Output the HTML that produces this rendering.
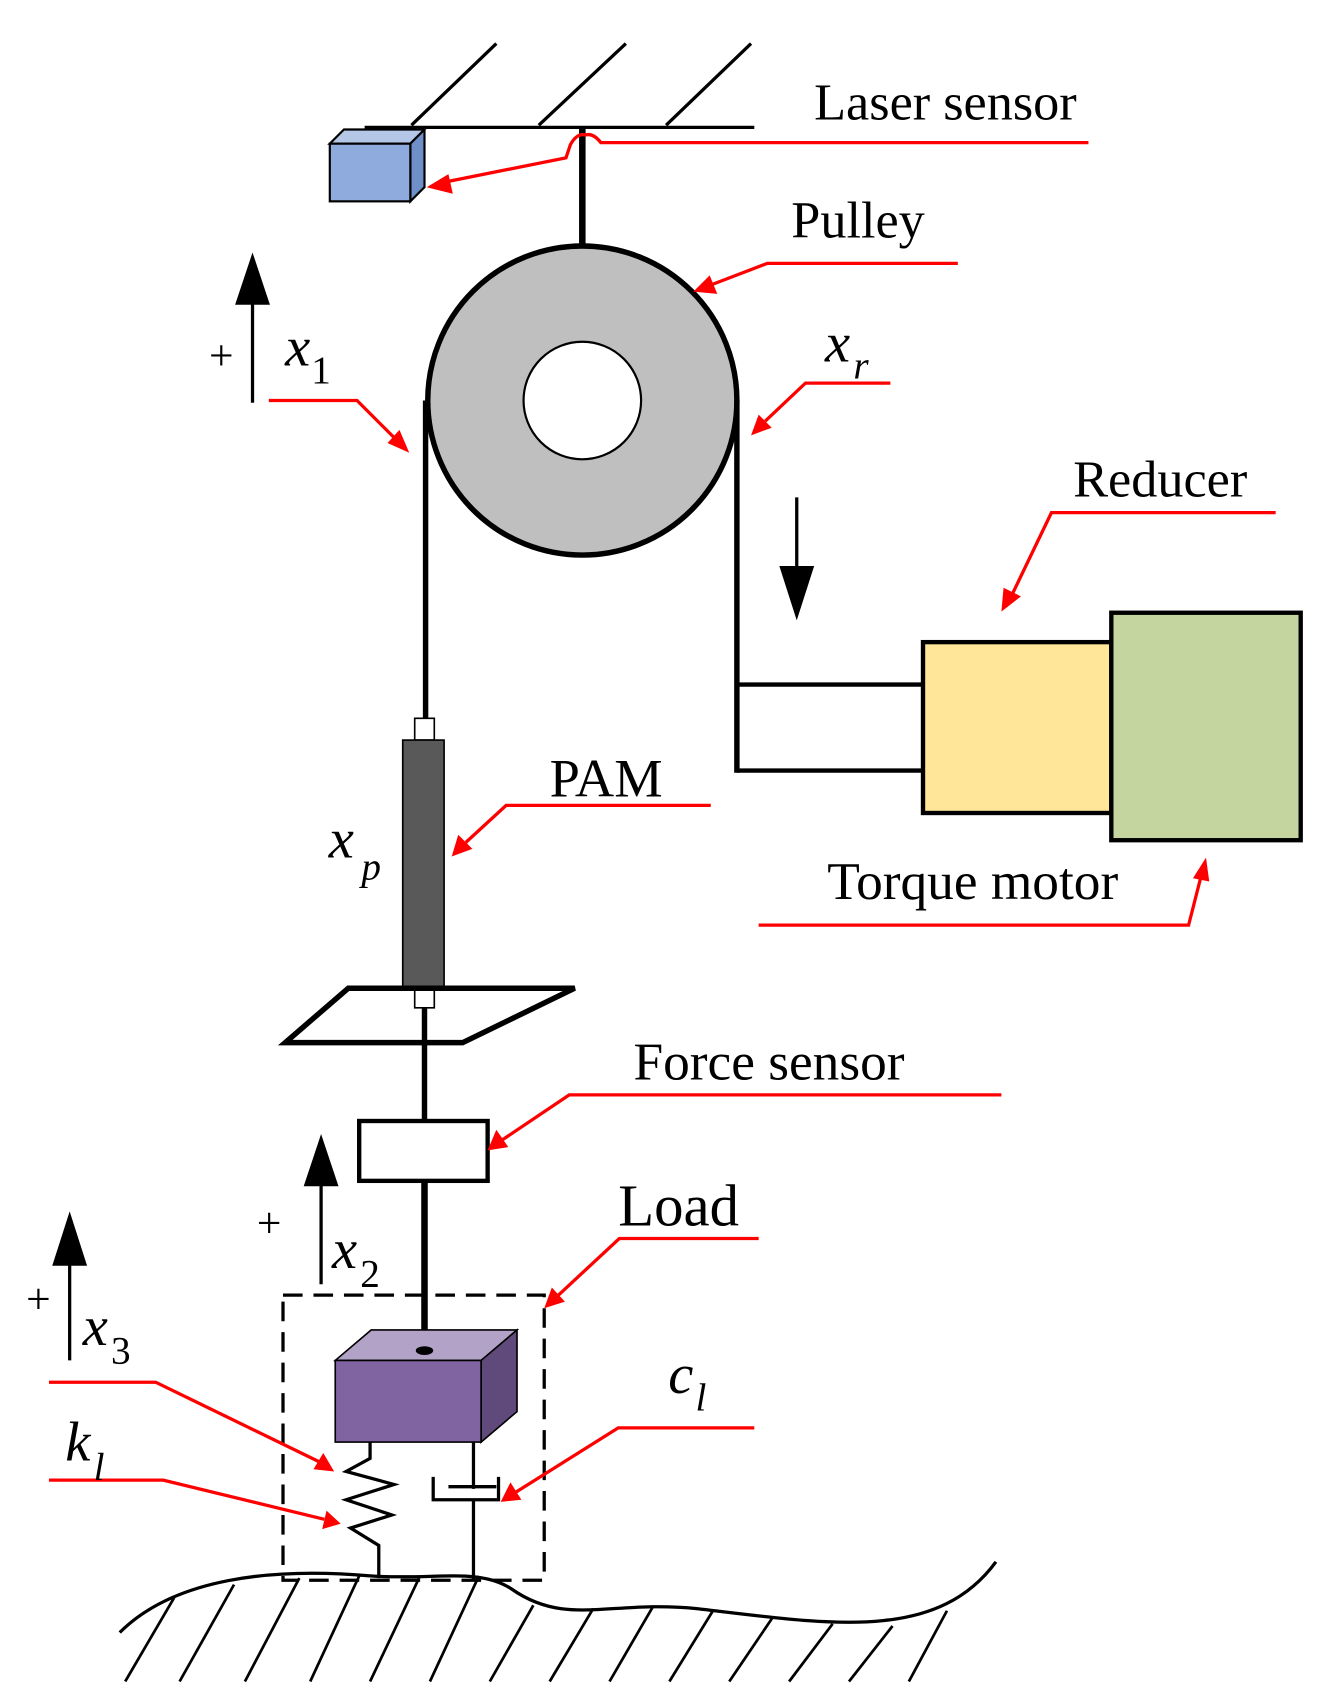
<!DOCTYPE html>
<html><head><meta charset="utf-8"><style>
html,body{margin:0;padding:0;background:#fff;}
svg{display:block;}
text{font-family:"Liberation Serif",serif;fill:#000;}
</style></head><body>
<svg width="1329" height="1700" viewBox="0 0 1221 1562" preserveAspectRatio="none" xmlns="http://www.w3.org/2000/svg">
<!-- ceiling -->
<g stroke="#000" stroke-width="3" fill="none">
<line x1="335" y1="117" x2="693" y2="117"/>
<line x1="378" y1="115" x2="456" y2="40"/>
<line x1="495" y1="115" x2="575" y2="40"/>
<line x1="612" y1="115" x2="690" y2="40"/>
</g>
<!-- laser sensor -->
<polygon points="303,132 316,119 390,119 377,132" fill="#b4c7e7" stroke="#000" stroke-width="2"/>
<polygon points="377,132 390,119 390,172 377,185" fill="#6f8fc9" stroke="#000" stroke-width="2"/>
<rect x="303" y="132" width="74" height="53" fill="#8faadc" stroke="#000" stroke-width="2"/>
<line x1="535" y1="117" x2="535" y2="226" stroke="#000" stroke-width="6"/>
<!-- pulley -->
<circle cx="535" cy="368" r="142" fill="#bfbfbf" stroke="#000" stroke-width="5"/>
<circle cx="535" cy="368" r="54" fill="#fff" stroke="#000" stroke-width="2"/>
<line x1="391" y1="368" x2="391" y2="662" stroke="#000" stroke-width="5"/>
<line x1="677" y1="368" x2="677" y2="710" stroke="#000" stroke-width="5"/>
<line x1="677" y1="629" x2="848" y2="629" stroke="#000" stroke-width="4"/>
<line x1="677" y1="708" x2="848" y2="708" stroke="#000" stroke-width="4"/>
<rect x="848" y="590" width="173" height="157" fill="#ffe699" stroke="#000" stroke-width="4"/>
<rect x="1021" y="563" width="174" height="209" fill="#c5d59f" stroke="#000" stroke-width="4"/>
<line x1="732" y1="457" x2="732" y2="525" stroke="#000" stroke-width="3"/>
<polygon points="716,520 748,520 732,570" fill="#000"/>
<line x1="232" y1="370" x2="232" y2="275" stroke="#000" stroke-width="3"/>
<polygon points="216,280 248,280 232,232" fill="#000"/>
<!-- PAM -->
<rect x="381" y="660" width="18" height="20" fill="#fff" stroke="#000" stroke-width="1.5"/>
<rect x="370" y="680" width="38" height="228" fill="#595959" stroke="#000" stroke-width="1.5"/>
<rect x="381" y="908" width="18" height="18" fill="#fff" stroke="#000" stroke-width="1.5"/>
<polygon points="262,958 320,908 528,908 425,958" fill="none" stroke="#000" stroke-width="5"/>
<line x1="390" y1="926" x2="390" y2="1030" stroke="#000" stroke-width="5"/>
<rect x="330" y="1030" width="118" height="55" fill="#fff" stroke="#000" stroke-width="4"/>
<line x1="390" y1="1085" x2="390" y2="1240" stroke="#000" stroke-width="6"/>
<line x1="295" y1="1180" x2="295" y2="1085" stroke="#000" stroke-width="3"/>
<polygon points="279,1090 311,1090 295,1042" fill="#000"/>
<line x1="64" y1="1250" x2="64" y2="1158" stroke="#000" stroke-width="3"/>
<polygon points="48,1163 80,1163 64,1113" fill="#000"/>
<rect x="260" y="1190" width="240" height="262" fill="none" stroke="#000" stroke-width="3" stroke-dasharray="18,10"/>
<!-- load cube -->
<polygon points="308,1250 341,1222 475,1222 442,1250" fill="#b3a2c7" stroke="#000" stroke-width="1.5"/>
<polygon points="442,1250 475,1222 475,1297 442,1325" fill="#604a7b" stroke="#000" stroke-width="1.5"/>
<rect x="308" y="1250" width="134" height="75" fill="#8064a2" stroke="#000" stroke-width="1.5"/>
<ellipse cx="390" cy="1241" rx="8" ry="4" fill="#000"/>
<polyline points="340,1325 340,1340 318,1352 362,1364 318,1378 360,1392 322,1404 348,1420 348,1450" fill="none" stroke="#000" stroke-width="3"/>
<g stroke="#000" stroke-width="3" fill="none">
<line x1="435" y1="1325" x2="435" y2="1368"/>
<line x1="412" y1="1366" x2="456" y2="1366"/>
<polyline points="398,1357 398,1378 458,1378 458,1357"/>
<line x1="435" y1="1378" x2="435" y2="1452"/>
</g>
<!-- ground -->
<path d="M110,1500 C160,1450 250,1440 340,1448 C400,1452 440,1440 470,1460 C520,1495 560,1470 640,1478 C760,1492 860,1510 915,1435" fill="none" stroke="#000" stroke-width="3"/>
<g stroke="#000" stroke-width="2.5">
<line x1="160" y1="1468" x2="115" y2="1545"/>
<line x1="215" y1="1456" x2="165" y2="1545"/>
<line x1="275" y1="1450" x2="225" y2="1545"/>
<line x1="330" y1="1448" x2="285" y2="1545"/>
<line x1="385" y1="1450" x2="340" y2="1545"/>
<line x1="440" y1="1448" x2="395" y2="1545"/>
<line x1="490" y1="1475" x2="450" y2="1545"/>
<line x1="545" y1="1478" x2="505" y2="1545"/>
<line x1="600" y1="1476" x2="560" y2="1545"/>
<line x1="655" y1="1480" x2="615" y2="1545"/>
<line x1="710" y1="1486" x2="670" y2="1545"/>
<line x1="765" y1="1492" x2="725" y2="1545"/>
<line x1="820" y1="1494" x2="780" y2="1545"/>
<line x1="870" y1="1480" x2="835" y2="1545"/>
</g>
<g stroke="#ff0000" stroke-width="3" fill="none">
<path d="M1000,131 L552,131 Q545,122 538,124 Q530,122 524,133 L520,145 L405,168"/>
<polyline points="880,242 705,242 650,263"/>
<polyline points="247,368 328,368 362,402"/>
<polyline points="818,352 740,352 703,387"/>
<polyline points="1172,471 966,471 930,546"/>
<polyline points="697,850 1092,850 1104,803"/>
<polyline points="653,740 465,740 428,774"/>
<polyline points="920,1006 523,1006 462,1047"/>
<polyline points="697,1138 569,1138 513,1190"/>
<polyline points="693,1312 568,1312 474,1371"/>
<polyline points="45,1270 143,1270 293,1343"/>
<polyline points="45,1360 150,1360 298,1396"/>
</g>
<g fill="#ff0000">
<polygon points="392,172 412,160 416,178"/>
<polygon points="637,268 652,253 659,270"/>
<polygon points="376,416 356,407 367,395"/>
<polygon points="690,400 697,381 709,393"/>
<polygon points="920,562 922,540 938,548"/>
<polygon points="1108,788 1111,810 1096,807"/>
<polygon points="415,787 421,767 434,780"/>
<polygon points="448,1057 456,1038 467,1054"/>
<polygon points="500,1202 507,1183 519,1196"/>
<polygon points="460,1380 469,1362 479,1378"/>
<polygon points="307,1352 288,1350 297,1335"/>
<polygon points="313,1400 296,1405 300,1388"/>
</g>
<text x="748" y="110" font-size="48">Laser sensor</text>
<text x="727" y="218" font-size="48">Pulley</text>
<text x="986" y="456" font-size="48">Reducer</text>
<text x="760" y="826" font-size="49">Torque motor</text>
<text x="505" y="732" font-size="50">PAM</text>
<text x="582" y="992" font-size="49">Force sensor</text>
<text x="568" y="1126" font-size="54">Load</text>
<text x="192" y="340" font-size="40">+</text>
<text x="236" y="1137" font-size="40">+</text>
<text x="24" y="1207" font-size="40">+</text>
<text x="262" y="336" font-size="52" font-style="italic">x</text><text x="286" y="352" font-size="36">1</text>
<text x="758" y="332" font-size="52" font-style="italic">x</text><text x="784" y="348" font-size="36" font-style="italic">r</text>
<text x="302" y="788" font-size="52" font-style="italic">x</text><text x="332" y="808" font-size="36" font-style="italic">p</text>
<text x="305" y="1165" font-size="52" font-style="italic">x</text><text x="331" y="1182" font-size="36">2</text>
<text x="76" y="1236" font-size="52" font-style="italic">x</text><text x="102" y="1253" font-size="36">3</text>
<text x="614" y="1280" font-size="52" font-style="italic">c</text><text x="639" y="1296" font-size="36" font-style="italic">l</text>
<text x="60" y="1342" font-size="52" font-style="italic">k</text><text x="86" y="1360" font-size="36" font-style="italic">l</text>
</svg>
</body></html>
